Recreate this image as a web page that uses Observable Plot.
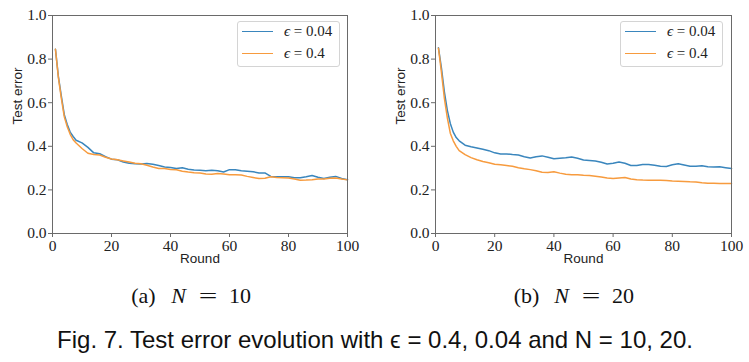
<!DOCTYPE html>
<html>
<head>
<meta charset="utf-8">
<script src="https://cdn.jsdelivr.net/npm/d3@7"></script>
<script src="https://cdn.jsdelivr.net/npm/@observablehq/plot@0.6"></script>
<style>
  html, body { margin: 0; padding: 0; background: #fff; }
  #wrap { position: relative; width: 749px; height: 362px; overflow: hidden; background: #fff; }
  .panel { position: absolute; top: 0; }
  .panel svg text { font-family: "Liberation Serif", "DejaVu Serif", serif; }
  .panel svg g[aria-label="text"] text { font-family: "Liberation Sans", "DejaVu Sans", sans-serif; }
  .legend { position: absolute; border: 1px solid #d4d4d4; border-radius: 3px; background: rgba(255,255,255,0.85); box-sizing: border-box; }
  .lrow { position: absolute; left: 0; height: 20px; display: flex; align-items: center; font-family: "Liberation Serif", "DejaVu Serif", serif; font-size: 15px; color: #222; white-space: nowrap; }
  .lline { position: absolute; height: 1.6px; }
  .sub { position: absolute; top: 285px; height: 22px; font-family: "Liberation Serif", "DejaVu Serif", serif; font-size: 22px; line-height: 22px; color: #111; white-space: nowrap; }
  .sub span { position: absolute; top: 0; display: inline-block; text-align: center; }
  .sub span.eq { transform: scaleX(1.5); }
  .fig { position: absolute; font-family: "Liberation Sans", "Noto Sans", sans-serif; font-size: 24px; line-height: 24px; color: #111; white-space: nowrap; transform: translateX(-50%); }
</style>
</head>
<body>
<div id="wrap"></div>
<script>
// ---------- data ----------
const rounds = [1,2,3,4,5,6,7,8,10,12,14,16,18,20,22,24,26,28,30,32,34,36,38,40,42,44,46,48,50,52,54,56,58,60,62,64,66,68,70,72,74,76,78,80,82,84,86,88,90,92,94,96,98,100];

// panel (a): N = 10
const n10Eps004 = [0.845,0.72,0.63,0.545,0.50,0.465,0.445,0.428,0.416,0.395,0.37,0.366,0.352,0.341,0.338,0.328,0.322,0.320,0.319,0.321,0.318,0.312,0.305,0.303,0.298,0.302,0.295,0.291,0.290,0.288,0.290,0.288,0.282,0.293,0.292,0.288,0.286,0.283,0.278,0.278,0.262,0.260,0.260,0.260,0.256,0.256,0.260,0.266,0.258,0.252,0.258,0.262,0.252,0.247];
const n10Eps04  = [0.845,0.715,0.62,0.535,0.49,0.455,0.43,0.415,0.39,0.368,0.362,0.360,0.350,0.342,0.338,0.333,0.328,0.322,0.320,0.313,0.305,0.298,0.298,0.294,0.292,0.286,0.282,0.279,0.278,0.273,0.272,0.275,0.273,0.270,0.270,0.268,0.262,0.257,0.252,0.253,0.260,0.257,0.256,0.255,0.250,0.244,0.245,0.247,0.250,0.250,0.253,0.255,0.250,0.246];

// panel (b): N = 20
const n20Eps004 = [0.852,0.76,0.65,0.565,0.505,0.465,0.44,0.425,0.405,0.398,0.392,0.386,0.380,0.370,0.365,0.365,0.362,0.360,0.352,0.346,0.352,0.356,0.350,0.343,0.345,0.347,0.351,0.345,0.337,0.335,0.333,0.327,0.319,0.322,0.328,0.322,0.312,0.312,0.316,0.317,0.313,0.308,0.307,0.315,0.320,0.314,0.308,0.308,0.311,0.306,0.305,0.306,0.302,0.298];
const n20Eps04  = [0.85,0.74,0.62,0.53,0.46,0.425,0.40,0.38,0.362,0.348,0.338,0.330,0.325,0.318,0.315,0.312,0.308,0.302,0.297,0.293,0.288,0.281,0.280,0.283,0.277,0.272,0.270,0.270,0.267,0.266,0.263,0.259,0.255,0.252,0.255,0.257,0.250,0.247,0.245,0.244,0.244,0.244,0.243,0.241,0.240,0.239,0.237,0.236,0.233,0.231,0.230,0.229,0.229,0.229];

const seriesNames = ["ϵ = 0.04", "ϵ = 0.4"];
const seriesColors = ["#3a86bd", "#f79b3e"];
const xTicks = [0, 20, 40, 60, 80, 100];
const yTicks = [0.0, 0.2, 0.4, 0.6, 0.8, 1.0];
const subCaptions = ["(a)", "(b)"];
const subN = ["10", "20"];
const figCaption = "Fig. 7. Test error evolution with ϵ = 0.4, 0.04 and N = 10, 20.";

// ---------- drawing ----------
const wrap = document.getElementById("wrap");
const serif = "'Liberation Serif', 'DejaVu Serif', serif";
const sans = "'Liberation Sans', 'DejaVu Sans', sans-serif";

function rowsFor(a, b) {
  const rows = [];
  rounds.forEach((r, i) => rows.push({round: r, value: a[i], series: seriesNames[0]}));
  rounds.forEach((r, i) => rows.push({round: r, value: b[i], series: seriesNames[1]}));
  return rows;
}

function panel(left, width, ml, mr, a, b) {
  const div = document.createElement("div");
  div.className = "panel";
  div.style.left = left + "px";
  const chart = Plot.plot({
    width, height: 270,
    marginLeft: ml, marginRight: mr, marginTop: 15, marginBottom: 37,
    style: {fontFamily: serif, fontSize: "15px", color: "#222", background: "transparent", overflow: "visible"},
    x: {domain: [0, 100]},
    y: {domain: [0, 1]},
    color: {domain: seriesNames, range: seriesColors},
    marks: [
      Plot.lineY(rowsFor(a, b), {x: "round", y: "value", stroke: "series", strokeWidth: 1.5, curve: "linear"}),
      Plot.frame({stroke: "#6a6a6a", strokeWidth: 1}),
      Plot.axisX({ticks: xTicks, tickSize: 4, tickPadding: 2, label: null, stroke: "#6a6a6a", fontSize: 15.5, fontFamily: serif}),
      Plot.axisY({ticks: yTicks, tickSize: 4, tickPadding: 2, tickFormat: d3.format(".1f"), label: null, stroke: "#6a6a6a", fontSize: 15.5, fontFamily: serif}),
      Plot.text(["Round"], {frameAnchor: "bottom", dy: 29, fontFamily: sans, fontSize: 13.5, fill: "#222"}),
      Plot.text(["Test error"], {frameAnchor: "left", dx: -35, rotate: -90, fontFamily: sans, fontSize: 13.5, fill: "#222"})
    ]
  });
  div.appendChild(chart);
  wrap.appendChild(div);

  // legend (upper right inside the axes)
  const plotLeft = left + ml;
  const lg = document.createElement("div");
  lg.className = "legend";
  lg.style.left = (plotLeft + 185) + "px";
  lg.style.top = "21px";
  lg.style.width = "103px";
  lg.style.height = "46px";
  wrap.appendChild(lg);
  const lineYs = [31.7, 53.3];
  seriesNames.forEach((name, i) => {
    const line = document.createElement("div");
    line.className = "lline";
    line.style.left = (plotLeft + 190) + "px";
    line.style.width = "31px";
    line.style.top = (lineYs[i] - 0.8) + "px";
    line.style.background = seriesColors[i];
    wrap.appendChild(line);
    const row = document.createElement("div");
    row.className = "lrow";
    row.style.left = (plotLeft + 232) + "px";
    row.style.top = (lineYs[i] - 10) + "px";
    const parts = name.split(" = ");
    row.innerHTML = "<i>" + parts[0] + "</i>&nbsp;=&nbsp;" + parts[1];
    wrap.appendChild(row);
  });
}

panel(0, 375, 52, 28, n10Eps004, n10Eps04);
panel(375, 374, 60, 18, n20Eps004, n20Eps04);

// sub-captions: pieces placed relative to each caption's centre
const subX = [192, 575];
const pieceBoxes = [[-63, 29], [-24, 21], [5, 22], [33, 30]]; // [offset, width]
subCaptions.forEach((c, i) => {
  const s = document.createElement("div");
  s.className = "sub";
  s.style.left = subX[i] + "px";
  const pieces = [c, "<i>N</i>", "=", subN[i]];
  pieces.forEach((p, k) => {
    const sp = document.createElement("span");
    sp.innerHTML = p;
    if (k === 2) sp.className = "eq";
    sp.style.left = pieceBoxes[k][0] + "px";
    sp.style.width = pieceBoxes[k][1] + "px";
    s.appendChild(sp);
  });
  wrap.appendChild(s);
});

// figure caption
const f = document.createElement("div");
f.className = "fig";
f.style.left = "375px";
f.style.top = "327.7px";
f.textContent = figCaption;
wrap.appendChild(f);
</script>
</body>
</html>
